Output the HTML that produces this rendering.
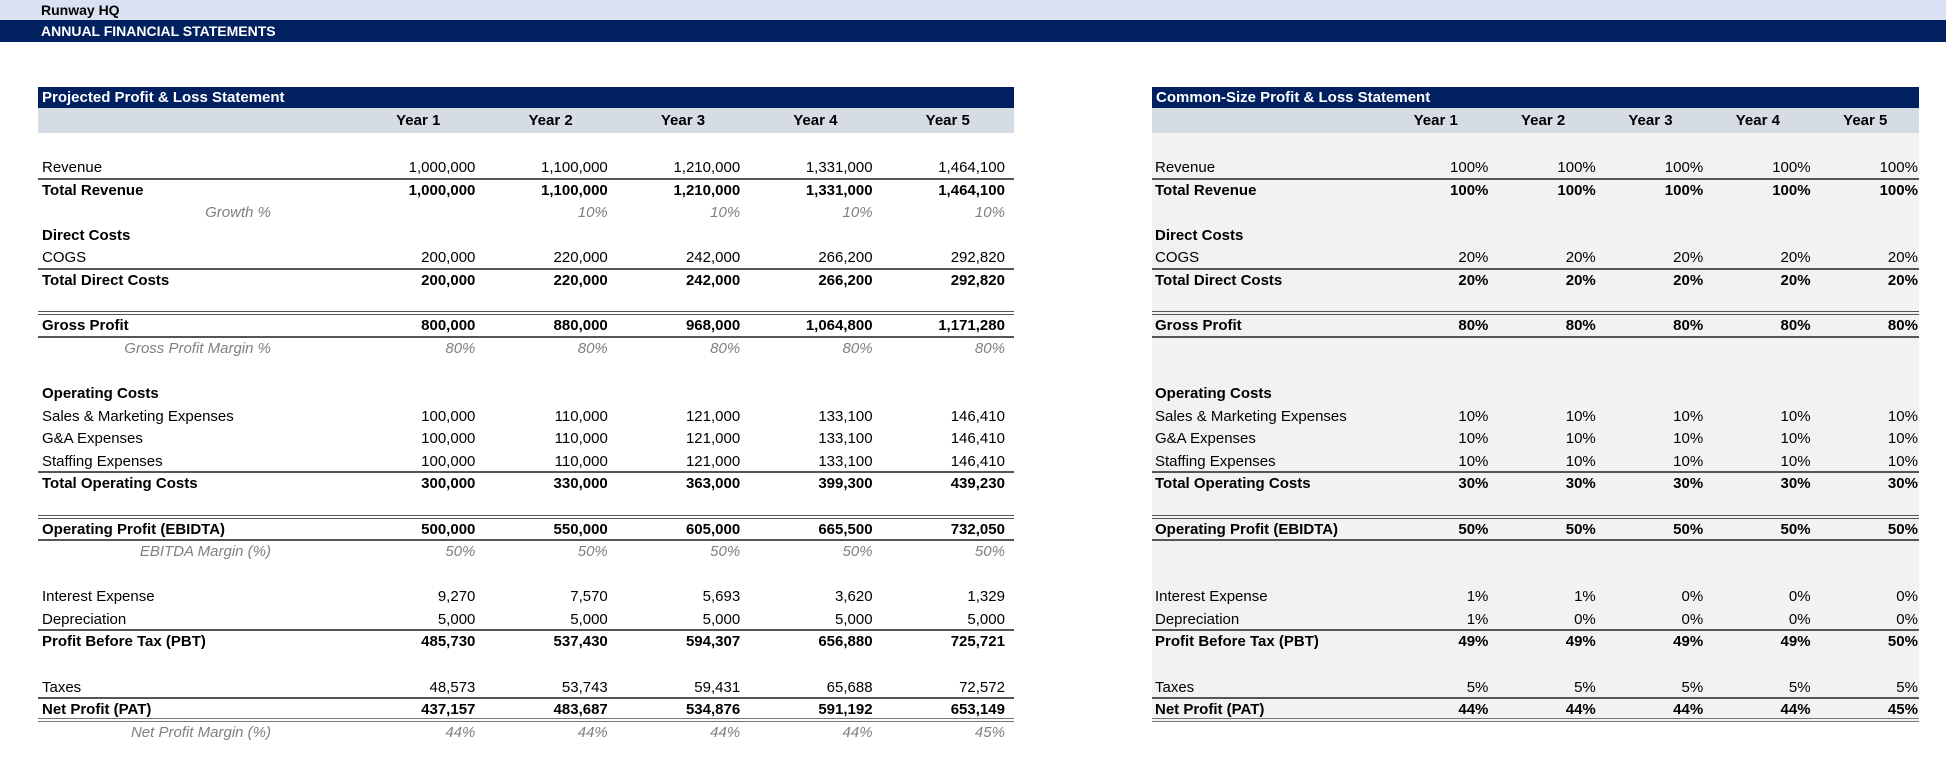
<!DOCTYPE html>
<html><head><meta charset="utf-8"><style>
*{margin:0;padding:0;box-sizing:border-box}
body{width:1946px;height:758px;background:#fff;font-family:"Liberation Sans",Arial,sans-serif;font-size:15px;color:#000;position:relative;overflow:hidden}
.band1{position:absolute;left:0;top:0;width:1946px;height:20px;background:#d9e1f2;font-weight:bold;font-size:14px;padding-left:41px;line-height:20px}
.band2{position:absolute;left:0;top:20px;width:1946px;height:22px;background:#002060;color:#fff;font-weight:bold;font-size:14px;padding-left:41px;line-height:22px}
.tbl{position:absolute;top:87px}
.hd{height:21px;background:#002060;color:#fff;font-weight:bold;font-size:15px;line-height:21px;padding-left:4px}
.sh{height:25px;background:#d6dce4;display:flex;font-weight:bold;font-size:15px;line-height:25px}
.gap{height:24px}
.row{height:22.6px;display:flex;line-height:22px;white-space:nowrap}
.c{text-align:right}
.b{font-weight:bold}
.i{font-style:italic;color:#808080}
.bb{border-bottom:2px solid #555}
.bd{border-bottom:4px double #555}
.bt{border-bottom:4px double #777}
.ind{padding-left:12px}
#L{left:38px;width:976px}
#L .lab{width:314px;padding-left:4px}
#L .c{width:132.4px;padding-right:9px}
#L .sh .c{text-align:center;padding-right:0}
#L .mg{text-align:right;padding-right:81px;padding-left:0}
#R{left:1152px;width:767px}
#R .body{background:#f2f2f2}
#R .lab{width:230px;padding-left:3px}
#R .c{width:107.4px;padding-right:1px}
#R .sh .c{text-align:center;padding-right:0}
</style></head><body>
<div class="band1">Runway HQ</div>
<div class="band2">ANNUAL FINANCIAL STATEMENTS</div>

<div class="tbl" id="L">
<div class="hd">Projected Profit &amp; Loss Statement</div>
<div class="sh"><div class="lab"></div><div class="c">Year 1</div><div class="c">Year 2</div><div class="c">Year 3</div><div class="c">Year 4</div><div class="c">Year 5</div></div>
<div class="gap"></div>
<div class="row bb"><div class="lab">Revenue</div><div class="c">1,000,000</div><div class="c">1,100,000</div><div class="c">1,210,000</div><div class="c">1,331,000</div><div class="c">1,464,100</div></div>
<div class="row b"><div class="lab">Total Revenue</div><div class="c">1,000,000</div><div class="c">1,100,000</div><div class="c">1,210,000</div><div class="c">1,331,000</div><div class="c">1,464,100</div></div>
<div class="row i"><div class="lab mg">Growth %</div><div class="c"></div><div class="c">10%</div><div class="c">10%</div><div class="c">10%</div><div class="c">10%</div></div>
<div class="row b"><div class="lab">Direct Costs</div></div>
<div class="row bb"><div class="lab">COGS</div><div class="c">200,000</div><div class="c">220,000</div><div class="c">242,000</div><div class="c">266,200</div><div class="c">292,820</div></div>
<div class="row b"><div class="lab">Total Direct Costs</div><div class="c">200,000</div><div class="c">220,000</div><div class="c">242,000</div><div class="c">266,200</div><div class="c">292,820</div></div>
<div class="row bd"></div>
<div class="row b bb"><div class="lab">Gross Profit</div><div class="c">800,000</div><div class="c">880,000</div><div class="c">968,000</div><div class="c">1,064,800</div><div class="c">1,171,280</div></div>
<div class="row i"><div class="lab mg">Gross Profit Margin %</div><div class="c">80%</div><div class="c">80%</div><div class="c">80%</div><div class="c">80%</div><div class="c">80%</div></div>
<div class="row"></div>
<div class="row b"><div class="lab">Operating Costs</div></div>
<div class="row"><div class="lab ind">Sales &amp; Marketing Expenses</div><div class="c">100,000</div><div class="c">110,000</div><div class="c">121,000</div><div class="c">133,100</div><div class="c">146,410</div></div>
<div class="row"><div class="lab ind">G&amp;A Expenses</div><div class="c">100,000</div><div class="c">110,000</div><div class="c">121,000</div><div class="c">133,100</div><div class="c">146,410</div></div>
<div class="row bb"><div class="lab ind">Staffing Expenses</div><div class="c">100,000</div><div class="c">110,000</div><div class="c">121,000</div><div class="c">133,100</div><div class="c">146,410</div></div>
<div class="row b"><div class="lab">Total Operating Costs</div><div class="c">300,000</div><div class="c">330,000</div><div class="c">363,000</div><div class="c">399,300</div><div class="c">439,230</div></div>
<div class="row bd"></div>
<div class="row b bb"><div class="lab">Operating Profit (EBIDTA)</div><div class="c">500,000</div><div class="c">550,000</div><div class="c">605,000</div><div class="c">665,500</div><div class="c">732,050</div></div>
<div class="row i"><div class="lab mg">EBITDA Margin (%)</div><div class="c">50%</div><div class="c">50%</div><div class="c">50%</div><div class="c">50%</div><div class="c">50%</div></div>
<div class="row"></div>
<div class="row"><div class="lab">Interest Expense</div><div class="c">9,270</div><div class="c">7,570</div><div class="c">5,693</div><div class="c">3,620</div><div class="c">1,329</div></div>
<div class="row bb"><div class="lab">Depreciation</div><div class="c">5,000</div><div class="c">5,000</div><div class="c">5,000</div><div class="c">5,000</div><div class="c">5,000</div></div>
<div class="row b"><div class="lab">Profit Before Tax (PBT)</div><div class="c">485,730</div><div class="c">537,430</div><div class="c">594,307</div><div class="c">656,880</div><div class="c">725,721</div></div>
<div class="row"></div>
<div class="row bb"><div class="lab">Taxes</div><div class="c">48,573</div><div class="c">53,743</div><div class="c">59,431</div><div class="c">65,688</div><div class="c">72,572</div></div>
<div class="row b bt"><div class="lab">Net Profit (PAT)</div><div class="c">437,157</div><div class="c">483,687</div><div class="c">534,876</div><div class="c">591,192</div><div class="c">653,149</div></div>
<div class="row i"><div class="lab mg">Net Profit Margin (%)</div><div class="c">44%</div><div class="c">44%</div><div class="c">44%</div><div class="c">44%</div><div class="c">45%</div></div>
</div>

<div class="tbl" id="R">
<div class="hd">Common-Size Profit &amp; Loss Statement</div>
<div class="sh"><div class="lab"></div><div class="c">Year 1</div><div class="c">Year 2</div><div class="c">Year 3</div><div class="c">Year 4</div><div class="c">Year 5</div></div>
<div class="body">
<div class="gap"></div>
<div class="row bb"><div class="lab">Revenue</div><div class="c">100%</div><div class="c">100%</div><div class="c">100%</div><div class="c">100%</div><div class="c">100%</div></div>
<div class="row b"><div class="lab">Total Revenue</div><div class="c">100%</div><div class="c">100%</div><div class="c">100%</div><div class="c">100%</div><div class="c">100%</div></div>
<div class="row"></div>
<div class="row b"><div class="lab">Direct Costs</div></div>
<div class="row bb"><div class="lab">COGS</div><div class="c">20%</div><div class="c">20%</div><div class="c">20%</div><div class="c">20%</div><div class="c">20%</div></div>
<div class="row b"><div class="lab">Total Direct Costs</div><div class="c">20%</div><div class="c">20%</div><div class="c">20%</div><div class="c">20%</div><div class="c">20%</div></div>
<div class="row bd"></div>
<div class="row b bb"><div class="lab">Gross Profit</div><div class="c">80%</div><div class="c">80%</div><div class="c">80%</div><div class="c">80%</div><div class="c">80%</div></div>
<div class="row"></div>
<div class="row"></div>
<div class="row b"><div class="lab">Operating Costs</div></div>
<div class="row"><div class="lab ind">Sales &amp; Marketing Expenses</div><div class="c">10%</div><div class="c">10%</div><div class="c">10%</div><div class="c">10%</div><div class="c">10%</div></div>
<div class="row"><div class="lab ind">G&amp;A Expenses</div><div class="c">10%</div><div class="c">10%</div><div class="c">10%</div><div class="c">10%</div><div class="c">10%</div></div>
<div class="row bb"><div class="lab ind">Staffing Expenses</div><div class="c">10%</div><div class="c">10%</div><div class="c">10%</div><div class="c">10%</div><div class="c">10%</div></div>
<div class="row b"><div class="lab">Total Operating Costs</div><div class="c">30%</div><div class="c">30%</div><div class="c">30%</div><div class="c">30%</div><div class="c">30%</div></div>
<div class="row bd"></div>
<div class="row b bb"><div class="lab">Operating Profit (EBIDTA)</div><div class="c">50%</div><div class="c">50%</div><div class="c">50%</div><div class="c">50%</div><div class="c">50%</div></div>
<div class="row"></div>
<div class="row"></div>
<div class="row"><div class="lab">Interest Expense</div><div class="c">1%</div><div class="c">1%</div><div class="c">0%</div><div class="c">0%</div><div class="c">0%</div></div>
<div class="row bb"><div class="lab">Depreciation</div><div class="c">1%</div><div class="c">0%</div><div class="c">0%</div><div class="c">0%</div><div class="c">0%</div></div>
<div class="row b"><div class="lab">Profit Before Tax (PBT)</div><div class="c">49%</div><div class="c">49%</div><div class="c">49%</div><div class="c">49%</div><div class="c">50%</div></div>
<div class="row"></div>
<div class="row bb"><div class="lab">Taxes</div><div class="c">5%</div><div class="c">5%</div><div class="c">5%</div><div class="c">5%</div><div class="c">5%</div></div>
<div class="row b bt"><div class="lab">Net Profit (PAT)</div><div class="c">44%</div><div class="c">44%</div><div class="c">44%</div><div class="c">44%</div><div class="c">45%</div></div>
</div>
</div>
</body></html>
